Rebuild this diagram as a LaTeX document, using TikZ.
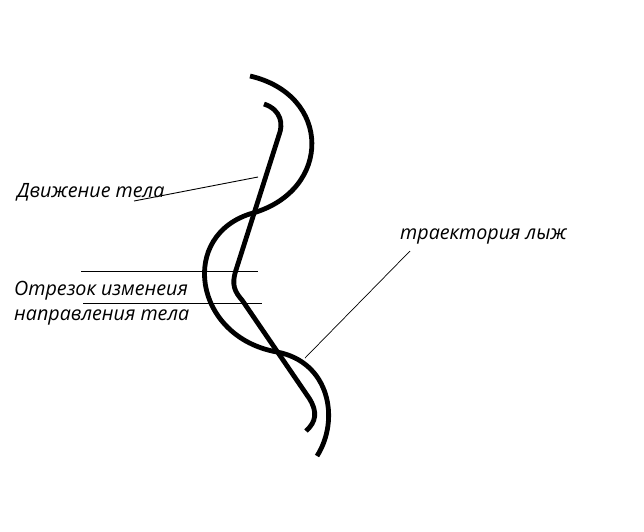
\documentclass[tikz,border=0pt]{standalone}
\usepackage{fontspec}
\setmainfont{Open Sans}
\begin{document}
\begin{tikzpicture}[x=1pt,y=-1pt,
  thickpath/.style={line width=4.8pt,line cap=butt},
  leader/.style={line width=0.9pt},
  lbl/.style={font=\fontsize{19.7}{23}\selectfont\itshape,inner sep=0pt,anchor=base west}]
\useasboundingbox[fill=white] (0,0) rectangle (644,531);
% trajectory of skis
\draw[thickpath] (250,76) .. controls (332,95) and (332,190) .. (253,213)
  .. controls (178,234) and (193,337) .. (277,352)
  .. controls (330,362) and (340,420) .. (317,456);
% body motion
\draw[thickpath,line join=round] (264,104) .. controls (282,110) and (283,125) .. (279,135) -- (236,270) .. controls (231,285) and (235,292) .. (242,300) -- (309,398) .. controls (318,412) and (316,422) .. (306,431);
% labels
\node[lbl] (dv) at (17,197) {Движение тела};
\node[lbl] (otr1) at (14,295) {Отрезок изменеия};
\node[lbl] (otr2) at (14,320) {направления тела};
\node[lbl] (tr) at (400,239) {траектория лыж};
\coordinate (dvA) at (134,201);
\coordinate (dvB) at (258,177);
\draw[leader] (dvA) -- (dvB);
\coordinate (h1a) at (81,271);
\coordinate (h1b) at (258,271);
\coordinate (h2a) at (83,303);
\coordinate (h2b) at (262,303);
\draw[leader] (h1a) -- (h1b);
\draw[leader] (h2a) -- (h2b);
\coordinate (trA) at (410,251);
\coordinate (trB) at (305,358);
\draw[leader,line width=0.7pt] (trA) -- (trB);
\end{tikzpicture}
\end{document}
